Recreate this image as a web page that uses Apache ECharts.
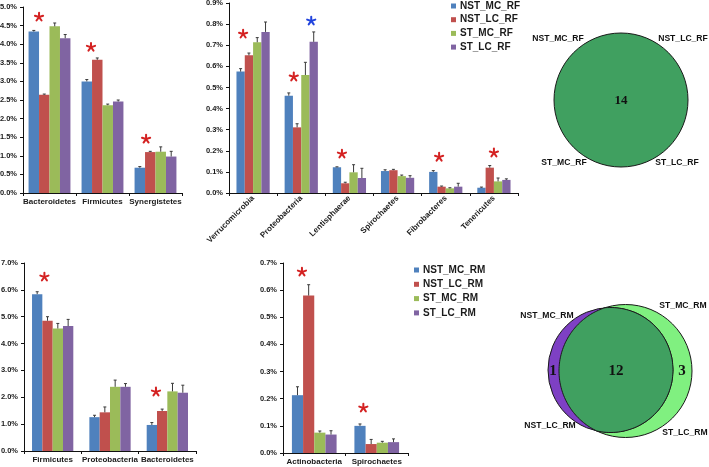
<!DOCTYPE html>
<html><head><meta charset="utf-8">
<script src="https://cdn.jsdelivr.net/npm/echarts@6/dist/echarts.min.js"></script>
<style>html,body{margin:0;padding:0;background:#fff}#c{width:709px;height:467px}</style>
</head><body><div id="c"></div>
<script>
// ---------- DATA ----------
const seriesRF = ['NST_MC_RF','NST_LC_RF','ST_MC_RF','ST_LC_RF'];
const seriesRM = ['NST_MC_RM','NST_LC_RM','ST_MC_RM','ST_LC_RM'];

const catsRF1 = ['Bacteroidetes','Firmicutes','Synergistetes'];
const valuesRF1 = [[4.34,3.00,0.68],[2.64,3.58,1.10],[4.48,2.36,1.11],[4.16,2.46,0.98]];
const errorsRF1 = [[0.03,0.05,0.03],[0.02,0.05,0.02],[0.09,0.03,0.13],[0.10,0.04,0.14]];
const starsRF1 = [[0,4.73,-1,0],[1,3.92,-1.1,0],[2,1.45,-0.9,0]]; // [category, height, bar slot, colour(0 red,1 blue)]

const catsRF2 = ['Verrucomicrobia','Proteobacteria','Lentisphaerae','Spirochaetes','Fibrobacteres','Tenericutes'];
const valuesRF2 = [[0.575,0.461,0.122,0.104,0.100,0.025],[0.652,0.311,0.046,0.108,0.030,0.120],[0.714,0.559,0.098,0.080,0.022,0.055],[0.763,0.716,0.071,0.072,0.030,0.062]];
const errorsRF2 = [[0.014,0.013,0.002,0.006,0.006,0.003],[0.011,0.017,0.005,0.004,0.003,0.010],[0.022,0.060,0.036,0.005,0.003,0.016],[0.047,0.047,0.046,0.010,0.016,0.005]];
const starsRF2 = [[0,0.753,-1.2,0],[1,0.55,-0.9,0],[1,0.815,1.2,1],[2,0.185,-0.9,0],[4,0.17,-0.8,0],[5,0.19,0,0]];

const catsRM1 = ['Firmicutes','Proteobacteria','Bacteroidetes'];
const valuesRM1 = [[5.84,1.26,0.97],[4.85,1.44,1.49],[4.56,2.39,2.22],[4.65,2.39,2.17]];
const errorsRM1 = [[0.09,0.07,0.09],[0.15,0.20,0.07],[0.19,0.25,0.30],[0.25,0.12,0.28]];
const starsRM1 = [[0,6.48,-0.8,0],[2,2.2,-1.1,0]];

const catsRM2 = ['Actinobacteria','Spirochaetes'];
const valuesRM2 = [[0.213,0.100],[0.580,0.033],[0.075,0.038],[0.068,0.040]];
const errorsRM2 = [[0.031,0.007],[0.040,0.017],[0.006,0.005],[0.014,0.012]];
const starsRM2 = [[0,0.667,-1.1,0],[1,0.166,-1.2,0]];

const vennRFLabels = ['NST_MC_RF','NST_LC_RF','ST_MC_RF','ST_LC_RF'];
const vennRFCount = [14];
const vennRMLabels = ['NST_MC_RM','NST_LC_RM','ST_MC_RM','ST_LC_RM'];
const vennRMCounts = [1,12,3]; // NST only, shared, ST only

// ---------- STYLE / LAYOUT ----------
const COLORS = ['#4F81BD','#C0504D','#9BBB59','#8064A2'];
const STAR_COLORS = ['#D42222','#2244DD'];
const FONT = 'Liberation Sans';
const TXT = '#1a1a1a';

const panels = [
  {grid:{left:23,top:7,width:159,height:186}, cats:catsRF1, names:seriesRF, values:valuesRF1, errors:errorsRF1, stars:starsRF1, gap:0.21, max:5, step:0.5, rotate:0},
  {grid:{left:229,top:3,width:289,height:190}, cats:catsRF2, names:seriesRF, values:valuesRF2, errors:errorsRF2, stars:starsRF2, gap:0.31, max:0.9, step:0.1, rotate:45},
  {grid:{left:24,top:263,width:172,height:188}, cats:catsRM1, names:seriesRM, values:valuesRM1, errors:errorsRM1, stars:starsRM1, gap:0.28, max:7, step:1, rotate:0},
  {grid:{left:283,top:263,width:125,height:190}, cats:catsRM2, names:seriesRM, values:valuesRM2, errors:errorsRM2, stars:starsRM2, gap:0.285, max:0.7, step:0.1, rotate:0}
];

const grids = [], xAxes = [], yAxes = [], series = [];

panels.forEach((p, gi) => {
  grids.push(Object.assign({outerBoundsMode:'none', containLabel:false}, p.grid));
  xAxes.push({
    gridIndex:gi, type:'category', data:p.cats,
    axisLine:{show:true, lineStyle:{color:'#111', width:1}},
    axisTick:{show:true, length:3, lineStyle:{color:'#111'}},
    axisLabel:{interval:0, rotate:p.rotate, fontSize:8, fontWeight:'bold', color:TXT, fontFamily:FONT, margin: p.rotate ? 4 : 5, hideOverlap:false},
    splitLine:{show:false}
  });
  yAxes.push({
    gridIndex:gi, type:'value', min:0, max:p.max, interval:p.step,
    axisLine:{show:true, lineStyle:{color:'#111', width:1}},
    axisTick:{show:true, length:3, lineStyle:{color:'#111'}},
    axisLabel:{formatter:v => v.toFixed(1) + '%', fontSize:7.5, fontWeight:'bold', color:TXT, fontFamily:FONT, margin:6},
    splitLine:{show:false}
  });
  const gap = p.gap;
  p.names.forEach((nm, i) => {
    series.push({
      type:'bar', name:nm, xAxisIndex:gi, yAxisIndex:gi, data:p.values[i],
      barGap:'0%', barCategoryGap:(gap*100)+'%',
      itemStyle:{color:COLORS[i]}, emphasis:{disabled:true}, silent:true
    });
    series.push({
      type:'custom', xAxisIndex:gi, yAxisIndex:gi, z:3, silent:true,
      data:p.values[i].map((v,k) => [k, v, p.errors[i][k]]),
      renderItem:(params, api) => {
        const band = api.size([1,0])[0];
        const bw = band*(1-gap)/4;
        const base = api.coord([api.value(0), api.value(1)]);
        const top = api.coord([api.value(0), api.value(1)+api.value(2)]);
        const x = base[0] + (i-1.5)*bw;
        return {type:'group', children:[
          {type:'line', shape:{x1:x, y1:base[1], x2:x, y2:top[1]}, style:{stroke:'#3a3a3a', lineWidth:1}},
          {type:'line', shape:{x1:x-1.5, y1:top[1], x2:x+1.5, y2:top[1]}, style:{stroke:'#3a3a3a', lineWidth:1}}
        ]};
      }
    });
  });
  series.push({
    type:'custom', xAxisIndex:gi, yAxisIndex:gi, z:4, silent:true,
    data:p.stars,
    renderItem:(params, api) => {
      const band = api.size([1,0])[0];
      const bw = band*(1-gap)/4;
      const c = api.coord([api.value(0), api.value(1)]);
      const cx = c[0] + api.value(2)*bw, cy = c[1];
      const col = STAR_COLORS[api.value(3)];
      const kids = [];
      for (let a = 0; a < 5; a++) {
        const ang = -Math.PI/2 + a*2*Math.PI/5;
        kids.push({type:'line', shape:{x1:cx, y1:cy, x2:cx+4.3*Math.cos(ang), y2:cy+4.3*Math.sin(ang)}, style:{stroke:col, lineWidth:2, lineCap:'round'}});
      }
      return {type:'group', children:kids};
    }
  });
});

// ---------- VENN DIAGRAMS ----------
const vennGrids = [{left:521,top:0,width:200,height:200},{left:521,top:271,width:200,height:200}];
vennGrids.forEach(g => {
  const gi = grids.length;
  grids.push(Object.assign({outerBoundsMode:'none', containLabel:false}, g));
  xAxes.push({gridIndex:gi, type:'value', min:-100, max:100, show:false});
  yAxes.push({gridIndex:gi, type:'value', min:-100, max:100, show:false});
});
const labelFont = 'bold 8.6px "Liberation Sans"';
const numFont = 'bold 13px "Liberation Serif"';
function txt(p, s, font, align) {
  return {type:'text', x:p[0], y:p[1], style:{text:s, font:font, fill:'#111', align:align||'center', verticalAlign:'middle'}};
}
// RF: one circle
const vennRFLayout = {circle:[0,0,67], labels:[[-63,61],[62,61],[-57,-63],[56,-63]]};
series.push({
  type:'custom', xAxisIndex:4, yAxisIndex:4, silent:true, data:[[0,0]],
  renderItem:(params, api) => {
    const L = vennRFLayout;
    const c = api.coord([L.circle[0], L.circle[1]]);
    const r = api.size([L.circle[2],0])[0];
    const kids = [{type:'circle', shape:{cx:c[0], cy:c[1], r:r}, style:{fill:'#40A060', stroke:'#1a1a1a', lineWidth:1}}];
    kids.push(txt([c[0], c[1]+1], String(vennRFCount[0]), numFont));
    vennRFLabels.forEach((s,k) => kids.push(txt(api.coord(L.labels[k]), s, labelFont)));
    return {type:'group', children:kids};
  }
});
// RM: two circles
const vennRMLayout = {nst:[-10.5,1,62.5], st:[4.5,0,66.5], nums:[[-68,0],[-5,0],[61,0]], labels:[[-74,55],[-71,-55],[62,65],[64,-62]]};
series.push({
  type:'custom', xAxisIndex:5, yAxisIndex:5, silent:true, data:[[0,0]],
  renderItem:(params, api) => {
    const L = vennRMLayout;
    const c1 = api.coord([L.nst[0], L.nst[1]]), r1 = api.size([L.nst[2],0])[0];
    const c2 = api.coord([L.st[0], L.st[1]]), r2 = api.size([L.st[2],0])[0];
    const dx = c2[0]-c1[0], dy = c2[1]-c1[1], d = Math.hypot(dx,dy);
    const a = (r1*r1 - r2*r2 + d*d)/(2*d);
    const h = Math.sqrt(Math.max(r1*r1 - a*a, 0));
    const t12 = Math.atan2(dy,dx), t21 = t12 + Math.PI;
    const al1 = Math.atan2(h, a), al2 = Math.atan2(h, d - a);
    const pts = [];
    const N = 90;
    for (let k = 0; k <= N; k++) { const t = t12 - al1 + 2*al1*k/N; pts.push([c1[0]+r1*Math.cos(t), c1[1]+r1*Math.sin(t)]); }
    for (let k = 0; k <= N; k++) { const t = t21 - al2 + 2*al2*k/N; pts.push([c2[0]+r2*Math.cos(t), c2[1]+r2*Math.sin(t)]); }
    const kids = [
      {type:'circle', shape:{cx:c2[0], cy:c2[1], r:r2}, style:{fill:'#80F080', stroke:'#1a1a1a', lineWidth:1}},
      {type:'circle', shape:{cx:c1[0], cy:c1[1], r:r1}, style:{fill:'#7E40C4', stroke:'#1a1a1a', lineWidth:1}},
      {type:'polygon', shape:{points:pts}, style:{fill:'#40A060', stroke:'#1a1a1a', lineWidth:1}}
    ];
    vennRMCounts.forEach((n,k) => kids.push(txt(api.coord(L.nums[k]), String(n), 'bold 15px "Liberation Serif"')));
    vennRMLabels.forEach((s,k) => kids.push(txt(api.coord(L.labels[k]), s, labelFont)));
    return {type:'group', children:kids};
  }
});

const legendBase = {
  orient:'vertical', icon:'rect', itemWidth:5, itemHeight:5, selectedMode:false,
  textStyle:{fontSize:10, fontWeight:'bold', color:TXT, fontFamily:FONT, lineHeight:12, padding:[0,0,0,-1]},
  padding:0
};

const chart = echarts.init(document.getElementById('c'), null, {renderer:'canvas'});
chart.setOption({
  animation:false,
  backgroundColor:'#fff',
  grid:grids, xAxis:xAxes, yAxis:yAxes,
  legend:[
    Object.assign({}, legendBase, {data:seriesRF, left:451, top:0, itemGap:1.7}),
    Object.assign({}, legendBase, {data:seriesRM, left:414, top:264, itemGap:2.3})
  ],
  tooltip:{show:false},
  series:series
});
</script>
</body></html>
